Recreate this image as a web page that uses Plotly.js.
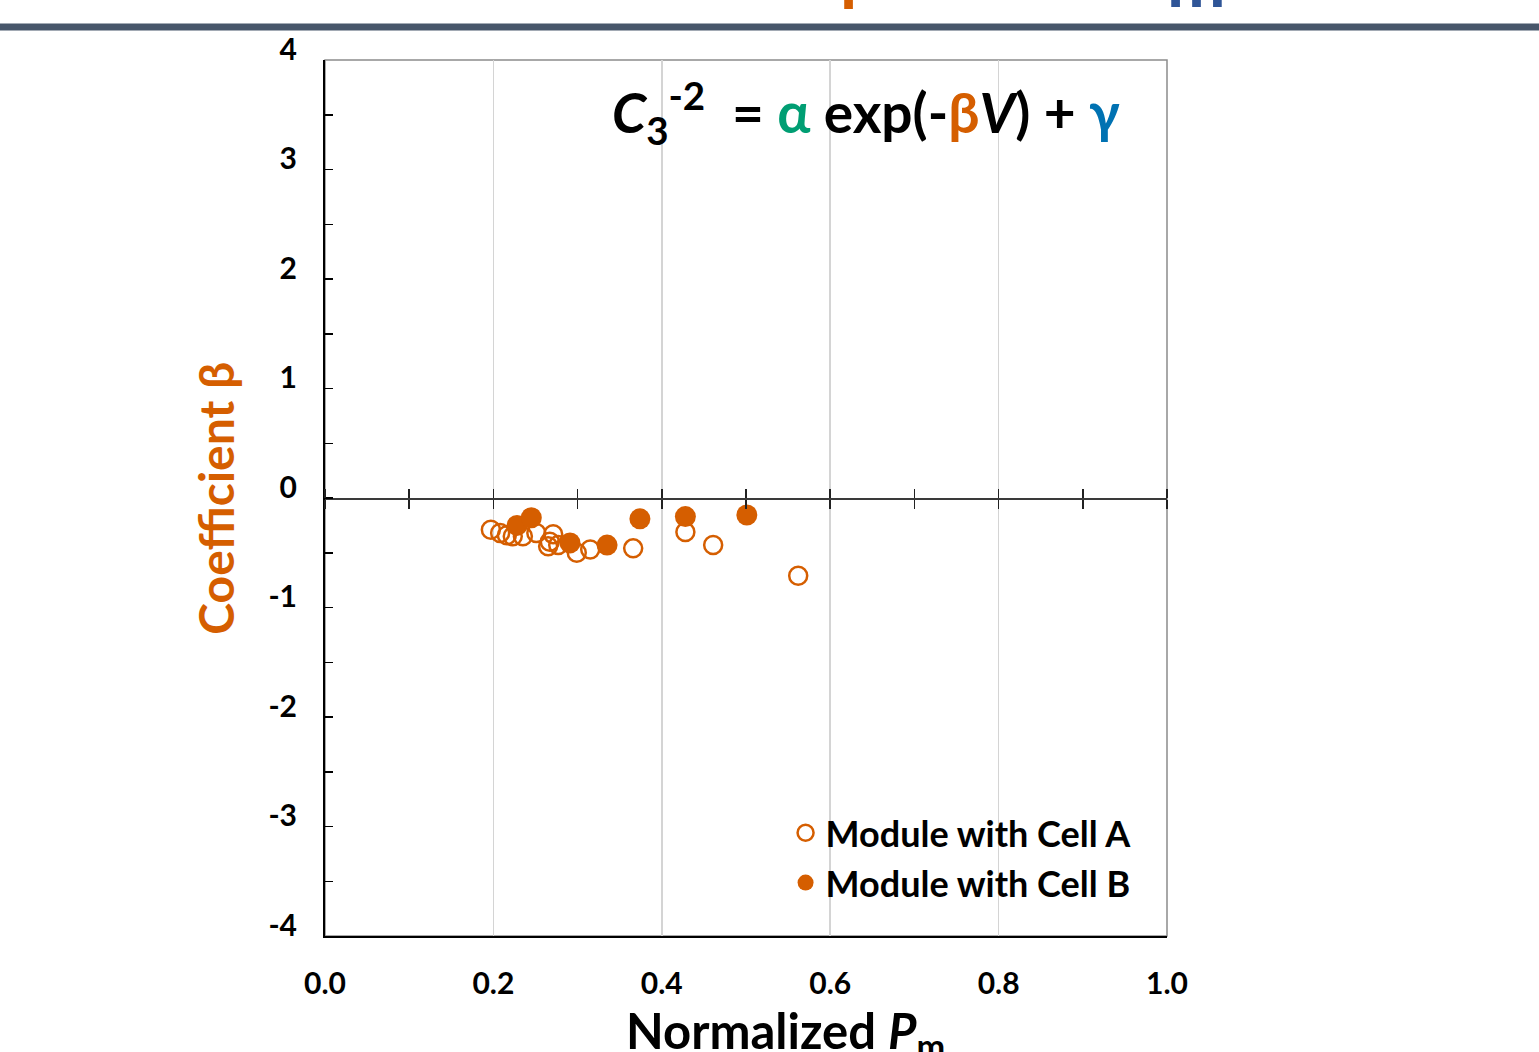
<!DOCTYPE html>
<html><head><meta charset="utf-8">
<script src="https://cdn.plot.ly/plotly-3.0.1.min.js"></script>
<style>html,body{margin:0;padding:0;background:#fff}#chart{width:1539px;height:1052px}</style>
</head><body><div id="chart"></div><script>
// Data
const cellA_x = [0.197,0.208,0.216,0.223,0.235,0.251,0.271,0.267,0.265,0.277,0.299,0.315,0.366,0.428,0.461,0.562];
const cellA_y = [-0.29,-0.32,-0.34,-0.35,-0.35,-0.32,-0.33,-0.40,-0.44,-0.43,-0.50,-0.47,-0.46,-0.31,-0.43,-0.71];
const cellB_x = [0.228,0.245,0.291,0.335,0.374,0.428,0.501];
const cellB_y = [-0.25,-0.18,-0.41,-0.43,-0.19,-0.17,-0.155];
const xTickVals = [0,0.2,0.4,0.6,0.8,1.0];
const xTickText = ['0.0','0.2','0.4','0.6','0.8','1.0'];
const yTickVals = [-4,-3,-2,-1,0,1,2,3,4];
const yTickText = ['-4','-3','-2','-1','0','1','2','3','4'];
const seriesNames = ['Module with Cell A','Module with Cell B'];

const ORANGE = '#D55E00', GREEN = '#009E73', BLUE = '#0072B2';
const FONT = 'Lato, Calibri, "Open Sans", sans-serif';

const traces = [
  {x: cellA_x, y: cellA_y, name: seriesNames[0], type: 'scatter', mode: 'markers',
   marker: {symbol: 'circle-open', size: 18, color: ORANGE, line: {width: 2.5, color: ORANGE}},
   cliponaxis: false},
  {x: cellB_x, y: cellB_y, name: seriesNames[1], type: 'scatter', mode: 'markers',
   marker: {symbol: 'circle', size: 21, color: ORANGE}, cliponaxis: false},
  // invisible helpers so the zero-line tick axes are drawn
  {x: cellA_x, y: cellA_y, xaxis: 'x2', yaxis: 'y', mode: 'markers', marker: {opacity: 0},
   hoverinfo: 'skip', showlegend: false},
  {x: cellA_x, y: cellA_y, xaxis: 'x3', yaxis: 'y', mode: 'markers', marker: {opacity: 0},
   hoverinfo: 'skip', showlegend: false}
];

const zeroAx = {
  overlaying: 'x', anchor: 'free', position: 0.5, range: [0, 1], autorange: false,
  showline: true, linecolor: '#3a3a3a', linewidth: 1.5,
  ticks: 'outside', tickmode: 'linear', tick0: 0, dtick: 0.1, ticklen: 9, tickwidth: 1.5, tickcolor: '#222',
  showticklabels: false, showgrid: false, zeroline: false
};

const layout = {
  width: 1539, height: 1052,
  margin: {l: 325, r: 372, t: 60, b: 116},
  paper_bgcolor: '#fff', plot_bgcolor: '#fff',
  font: {family: FONT, color: '#000'},
  showlegend: true,
  legend: {x: 0.547, y: 0.152, xanchor: 'left', yanchor: 'top', bgcolor: 'rgba(0,0,0,0)',
           font: {family: FONT, size: 36, weight: 'bold', color: '#000'}, tracegroupgap: 0},
  xaxis: {range: [0, 1], autorange: false, tickmode: 'array', tickvals: xTickVals, ticktext: xTickText,
          ticks: '', showline: true, linecolor: '#000', linewidth: 2,
          showgrid: true, gridcolor: '#d4d4d4', gridwidth: 1.5, zeroline: false,
          tickfont: {family: FONT, size: 30, weight: 'bold', color: '#000'}, ticklabelstandoff: 20},
  xaxis2: Object.assign({side: 'bottom'}, zeroAx),
  xaxis3: Object.assign({side: 'top'}, zeroAx),
  yaxis: {range: [-4, 4], autorange: false, tickmode: 'array', tickvals: yTickVals, ticktext: yTickText,
          ticks: 'inside', ticklen: 8, tickwidth: 1.5, tickcolor: '#000',
          minor: {dtick: 0.5, ticks: 'inside', ticklen: 8, tickwidth: 1.5, tickcolor: '#000', showgrid: false},
          showline: true, linecolor: '#000', linewidth: 2, showgrid: false, zeroline: false,
          tickfont: {family: FONT, size: 30, weight: 'bold', color: '#000'},
          ticklabelstandoff: 20, ticklabelshift: -11},
  shapes: [
    {type: 'rect', xref: 'paper', yref: 'paper', x0: 0, x1: 1, y0: 0, y1: 1,
     line: {color: '#8c8c8c', width: 1.5}, layer: 'below'},
    {type: 'line', xref: 'paper', yref: 'paper', x0: -0.4, x1: 1.45, y0: 1.0377, y1: 1.0377,
     line: {color: '#47566A', width: 7}}
  ],
  annotations: [
    {xref: 'paper', yref: 'paper', x: 0.9466, y: 0.9406, xanchor: 'right', yanchor: 'middle', showarrow: false,
     font: {family: FONT, size: 55, weight: 'bold', color: '#000'},
     text: "<i>C</i><sub>3</sub><sup>-2</sup>  = <span style='color:" + GREEN + "'>α</span> exp(-<span style='color:" + ORANGE + "'>β</span><i>V</i>) + <span style='color:" + BLUE + "'>γ</span>"},
    {xref: 'paper', yref: 'paper', x: 0.5475, y: -0.111, xanchor: 'center', yanchor: 'middle', showarrow: false,
     font: {family: FONT, size: 49, weight: 'bold', color: '#000'},
     text: 'Normalized <i>P</i><sub>m</sub>'},
    {xref: 'paper', yref: 'paper', x: -0.131, y: 0.5, xanchor: 'center', yanchor: 'middle', showarrow: false,
     textangle: -90, font: {family: FONT, size: 48, weight: 'bold', color: ORANGE},
     text: 'Coefficient β'},
    {xref: 'paper', yref: 'paper', x: (860 - 325) / 842, y: (936 - 14) / 876, xanchor: 'center', yanchor: 'bottom',
     showarrow: false, font: {family: FONT, size: 70, weight: 'bold', color: ORANGE}, text: 'β'},
    {xref: 'paper', yref: 'paper', x: (1196 - 325) / 842, y: (936 - 24) / 876, xanchor: 'center', yanchor: 'bottom',
     showarrow: false, font: {family: FONT, size: 70, weight: 'bold', color: '#2F5597'}, text: 'm'}
  ]
};

Plotly.newPlot('chart', traces, layout, {displayModeBar: false, staticPlot: true});
</script></body></html>
